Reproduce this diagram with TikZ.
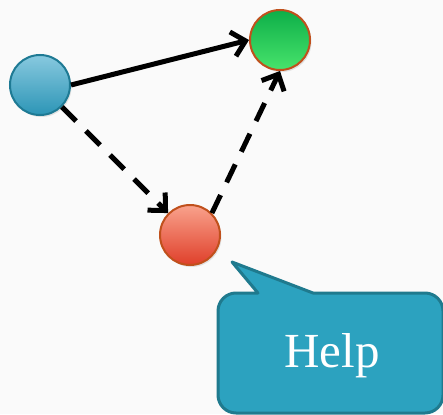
\documentclass[tikz,border=0pt]{standalone}
\usepackage{fontspec}
\setmainfont{Liberation Serif}
\usetikzlibrary{arrows.meta,shadows}

\definecolor{paper}{HTML}{FAFAFA}
\definecolor{bluetop}{HTML}{88C9DF}
\definecolor{bluebot}{HTML}{2C95B6}
\definecolor{blueedge}{HTML}{1E7A94}
\definecolor{greentop}{HTML}{0DAE48}
\definecolor{greenbot}{HTML}{48E46C}
\definecolor{redtop}{HTML}{F9A28C}
\definecolor{redbot}{HTML}{DF3F2A}
\definecolor{rustedge}{HTML}{C0501C}
\definecolor{helpfill}{HTML}{2CA2BF}
\definecolor{helpedge}{HTML}{1F7A8E}

\begin{document}
\begin{tikzpicture}[x=1pt,y=-1pt,
    ball/.style={circle, minimum size=60pt, inner sep=0pt, line width=2pt,
        drop shadow={opacity=0.2, shadow xshift=1.5pt, shadow yshift=-2pt}},
    link/.style={line width=5pt, -{Straight Barb[length=13pt,width=25pt]}},
    helpbox/.style={fill=helpfill, draw=helpedge, line width=3pt, line join=round},
    helptext/.style={text=white, font=\fontsize{49}{51}\selectfont}]
        \fill[paper] (0,0) rectangle (443,414);
        \useasboundingbox (0,0) rectangle (443,414);

        \node[ball, draw=blueedge, top color=bluetop, bottom color=bluebot] (src) at (40,85) {};
        \node[ball, draw=rustedge, top color=greentop, bottom color=greenbot] (dst) at (280,40) {};
        \node[ball, draw=rustedge, top color=redtop, bottom color=redbot] (mid) at (190,235) {};

        \draw[link] (src.east) -- (dst.west);
        \draw[link, dash pattern=on 20pt off 14pt] (src.south east) -- (mid.north west);
        \draw[link, dash pattern=on 20pt off 14pt] (mid.north east) -- (dst.south);

        % speech bubble with its tail pointing at the red node
        \draw[helpbox] (218,395) -- (218,311) arc[start angle=180, end angle=270, radius=18]
            -- (258,293) -- (232,262) -- (313,293) -- (425,293)
            arc[start angle=270, end angle=360, radius=18] -- (443,395)
            arc[start angle=0, end angle=90, radius=18] -- (236,413)
            arc[start angle=90, end angle=180, radius=18] -- cycle;
        \node[helptext] (help) at (332,356) {Help};
\end{tikzpicture}
\end{document}
